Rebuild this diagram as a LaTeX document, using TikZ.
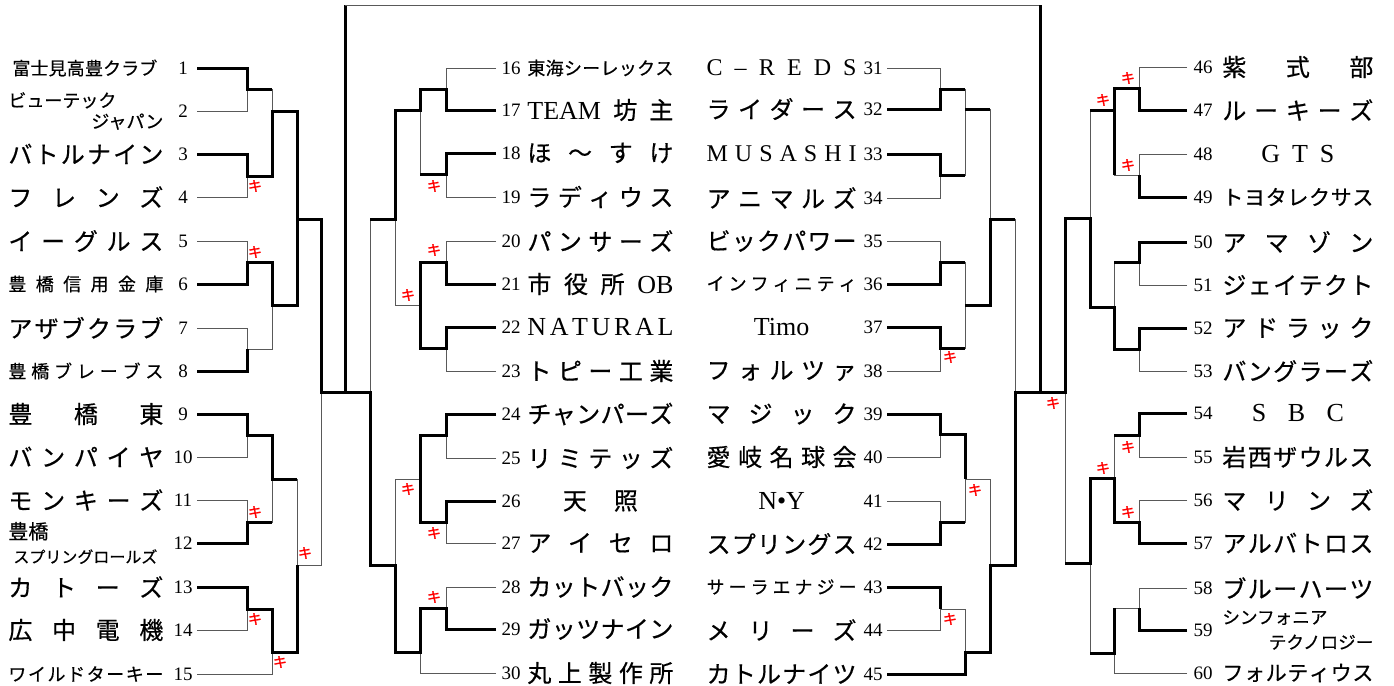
\documentclass[tikz,border=0pt]{standalone}
\usepackage{fontspec}
\setmainfont{Liberation Serif}
\newfontfamily\jp[FakeBold=0.5]{Noto Sans CJK JP}
\newfontfamily\jpheavy[FakeBold=1.5]{Noto Sans CJK JP}
\def\gobblemark#1{}
\def\spreadloop#1#2{#1\ifx\relax#2\expandafter\gobblemark\else\hfil\expandafter\spreadloop\fi{#2}}
\newcommand\spreadname[2]{\makebox[#1][s]{\spreadloop#2\relax}}
\newcommand\teamL[4]{\coordinate (p#1) at (197,#2); \node[seed] (n#1) at (183,#2) {#1}; \node[#3, anchor=west] (t#1) at (8,#2) {#4};}
\newcommand\teamCL[4]{\coordinate (p#1) at (496,#2); \node[seed] (n#1) at (511,#2) {#1}; \node[#3, anchor=west] (t#1) at (527,#2) {#4};}
\newcommand\teamCR[4]{\coordinate (p#1) at (887,#2); \node[seed] (n#1) at (873,#2) {#1}; \node[#3, anchor=east] (t#1) at (857,#2) {#4};}
\newcommand\teamR[4]{\coordinate (p#1) at (1187,#2); \node[seed] (n#1) at (1203,#2) {#1}; \node[#3, anchor=west] (t#1) at (1222,#2) {#4};}
\tikzset{
  win/.style={line width=1.5pt, black},
  lose/.style={line width=0.5pt, black!65},
  seed/.style={font=\fontsize{9.5}{10}\selectfont, inner sep=0pt},
  jpbig/.style={font=\jp\fontsize{12}{14}\selectfont, inner sep=0pt},
  jpmid/.style={font=\jp\fontsize{10.5}{12}\selectfont, inner sep=0pt},
  jpsmall/.style={font=\jp\fontsize{9}{10.5}\selectfont, inner sep=0pt},
  jptiny/.style={font=\jp\fontsize{8}{12}\selectfont, inner sep=0pt},
  jptwo/.style={font=\jp\fontsize{8.8}{12.5}\selectfont, inner sep=0pt},
  latin/.style={font=\fontsize{13}{15}\selectfont, inner sep=0pt},
  latinsm/.style={font=\fontsize{12}{14}\selectfont, inner sep=0pt},
  kiken/.style={font=\jpheavy\fontsize{7}{7}\selectfont, text=red, inner sep=0pt}
}

\begin{document}
\begin{tikzpicture}[x=0.5pt, y=-0.5pt]
	%%%%% START %%%%%
	\useasboundingbox (0,0) rectangle (1394,686);

	%%%%% left block
	\teamL{1}{68}{jpsmall}{\hspace*{2pt}\spreadname{72.5pt}{富士見高豊クラブ}}
	\teamL{2}{111}{jpsmall, align=left}{\makebox[77.5pt][l]{ビューテック}\\\makebox[77.5pt][r]{ジャパン}}
	\teamL{3}{154}{jpbig}{\spreadname{77.5pt}{バトルナイン}}
	\teamL{4}{197}{jpbig}{\spreadname{77.5pt}{フレンズ}}
	\teamL{5}{241}{jpbig}{\spreadname{77.5pt}{イーグルス}}
	\teamL{6}{284}{jpsmall}{\spreadname{77.5pt}{豊橋信用金庫}}
	\teamL{7}{328}{jpbig}{\spreadname{77.5pt}{アザブクラブ}}
	\teamL{8}{371}{jpsmall}{\spreadname{77.5pt}{豊橋ブレーブス}}
	\teamL{9}{414}{jpbig}{\spreadname{77.5pt}{豊橋東}}
	\teamL{10}{457}{jpbig}{\spreadname{77.5pt}{バンパイヤ}}
	\teamL{11}{500}{jpbig}{\spreadname{77.5pt}{モンキーズ}}
	\teamL{12}{543}{jptiny, align=left}{{\fontsize{10}{12}\selectfont 豊橋}\\\hspace*{2.5pt}スプリングロールズ}
	\teamL{13}{587}{jpbig}{\spreadname{77.5pt}{カトーズ}}
	\teamL{14}{630}{jpbig}{\spreadname{77.5pt}{広中電機}}
	\teamL{15}{674}{jpsmall}{\spreadname{77.5pt}{ワイルドターキー}}

	\coordinate (m1x2) at (247,89);
	\coordinate (m3x4) at (247,176);
	\coordinate (m5x6) at (247,262);
	\coordinate (m7x8) at (247,349);
	\coordinate (m9x10) at (247,435);
	\coordinate (m11x12) at (247,522);
	\coordinate (m13x14) at (247,609);
	\coordinate (m1x4) at (272,111);
	\coordinate (m5x8) at (272,305);
	\coordinate (m9x12) at (272,479);
	\coordinate (m13x15) at (272,652);
	\coordinate (m1x8) at (297,219);
	\coordinate (m9x15) at (297,565);
	\coordinate (m1x15) at (321,392);

	\draw[lose] (p1) -| (m1x2) (p2) -| (m1x2) (p3) -| (m3x4) (p4) -| (m3x4);
	\draw[lose] (p5) -| (m5x6) (p6) -| (m5x6) (p7) -| (m7x8) (p8) -| (m7x8);
	\draw[lose] (p9) -| (m9x10) (p10) -| (m9x10) (p11) -| (m11x12) (p12) -| (m11x12);
	\draw[lose] (p13) -| (m13x14) (p14) -| (m13x14) (p15) -| (m13x15);
	\draw[lose] (m1x2) -| (m1x4) (m3x4) -| (m1x4) (m5x6) -| (m5x8) (m7x8) -| (m5x8);
	\draw[lose] (m9x10) -| (m9x12) (m11x12) -| (m9x12) (m13x14) -| (m13x15);
	\draw[lose] (m1x4) -| (m1x8) (m5x8) -| (m1x8) (m9x12) -| (m9x15) (m13x15) -| (m9x15);
	\draw[lose] (m1x8) -| (m1x15) (m9x15) -| (m1x15);

	\draw[win] (p1) -| (m1x2) -- (m1x2 -| m1x4);
	\draw[win] (p3) -| (m3x4) -| (m1x4) -| (m1x8) -| (m1x15) -- (345,392);
	\draw[win] (p6) -| (m5x6) -| (m5x8) -| (m1x8);
	\draw[win] (p8) -| (m7x8);
	\draw[win] (p9) -| (m9x10) -| (m9x12) -- (m9x12 -| m9x15);
	\draw[win] (p12) -| (m11x12) -- (m11x12 -| m9x12);
	\draw[win] (p13) -| (m13x14) -| (m13x15) -| (m9x15);

	%%%%% centre left block
	\teamCL{16}{68}{jpsmall}{\spreadname{73pt}{東海シーレックス}}
	\teamCL{17}{110}{jpbig}{\makebox[73pt][s]{{\rmfamily\fontsize{13}{15}\selectfont TEAM}\hfil 坊\hfil 主}}
	\teamCL{18}{153}{jpbig}{\spreadname{73pt}{ほ〜すけ}}
	\teamCL{19}{197}{jpbig}{\spreadname{73pt}{ラディウス}}
	\teamCL{20}{241}{jpbig}{\spreadname{73pt}{パンサーズ}}
	\teamCL{21}{284}{jpbig}{\makebox[73pt][s]{市\hfil 役\hfil 所\hfil{\rmfamily\fontsize{13}{15}\selectfont OB}}}
	\teamCL{22}{327}{latin}{\spreadname{73pt}{NATURAL}}
	\teamCL{23}{371}{jpbig}{\spreadname{73pt}{トピー工業}}
	\teamCL{24}{414}{jpbig}{\spreadname{73pt}{チャンパーズ}}
	\teamCL{25}{458}{jpbig}{\spreadname{73pt}{リミテッズ}}
	\teamCL{26}{501}{jpbig}{\makebox[73pt]{\makebox[37.5pt][s]{天\hfil 照}}}
	\teamCL{27}{543}{jpbig}{\spreadname{73pt}{アイセロ}}
	\teamCL{28}{587}{jpbig}{\spreadname{73pt}{カットバック}}
	\teamCL{29}{629}{jpbig}{\spreadname{73pt}{ガッツナイン}}
	\teamCL{30}{673}{jpbig}{\spreadname{73pt}{丸上製作所}}

	\coordinate (m16x17) at (446,89);
	\coordinate (m18x19) at (446,174);
	\coordinate (m20x21) at (446,262);
	\coordinate (m22x23) at (446,348);
	\coordinate (m24x25) at (446,435);
	\coordinate (m26x27) at (446,522);
	\coordinate (m28x29) at (446,608);
	\coordinate (m16x19) at (420,110);
	\coordinate (m20x23) at (420,305);
	\coordinate (m24x27) at (420,479);
	\coordinate (m28x30) at (420,652);
	\coordinate (m16x23) at (395,219);
	\coordinate (m24x30) at (395,565);
	\coordinate (m16x30) at (370,392);

	\draw[lose] (p16) -| (m16x17) (p17) -| (m16x17) (p18) -| (m18x19) (p19) -| (m18x19);
	\draw[lose] (p20) -| (m20x21) (p21) -| (m20x21) (p22) -| (m22x23) (p23) -| (m22x23);
	\draw[lose] (p24) -| (m24x25) (p25) -| (m24x25) (p26) -| (m26x27) (p27) -| (m26x27);
	\draw[lose] (p28) -| (m28x29) (p29) -| (m28x29) (p30) -| (m28x30);
	\draw[lose] (m16x17) -| (m16x19) (m18x19) -| (m16x19) (m20x21) -| (m20x23) (m22x23) -| (m20x23);
	\draw[lose] (m24x25) -| (m24x27) (m26x27) -| (m24x27) (m28x29) -| (m28x30);
	\draw[lose] (m16x19) -| (m16x23) (m20x23) -| (m16x23) (m24x27) -| (m24x30) (m28x30) -| (m24x30);
	\draw[lose] (m16x23) -| (m16x30) (m24x30) -| (m16x30);

	\draw[win] (p17) -| (m16x17) -| (m16x19) -| (m16x23) -- (m16x23 -| m16x30);
	\draw[win] (p18) -| (m18x19) -- (m18x19 -| m16x19);
	\draw[win] (p21) -| (m20x21) -| (m20x23);
	\draw[win] (p22) -| (m22x23) -| (m20x23);
	\draw[win] (p24) -| (m24x25) -| (m24x27);
	\draw[win] (p26) -| (m26x27) -| (m24x27);
	\draw[win] (p29) -| (m28x29) -| (m28x30) -| (m24x30) -| (m16x30) -- (345,392);

	%%%%% centre right block
	\teamCR{31}{68}{latinsm}{\spreadname{75pt}{C–REDS}}
	\teamCR{32}{109}{jpbig}{\spreadname{75pt}{ライダース}}
	\teamCR{33}{154}{latinsm}{\spreadname{75pt}{MUSASHI}}
	\teamCR{34}{198}{jpbig}{\spreadname{75pt}{アニマルズ}}
	\teamCR{35}{241}{jpbig}{\spreadname{75pt}{ビックパワー}}
	\teamCR{36}{284}{jpsmall}{\spreadname{75pt}{インフィニティ}}
	\teamCR{37}{327}{latin}{\makebox[75pt]{Timo}}
	\teamCR{38}{371}{jpbig}{\spreadname{75pt}{フォルツァ}}
	\teamCR{39}{414}{jpbig}{\spreadname{75pt}{マジック}}
	\teamCR{40}{457}{jpbig}{\spreadname{75pt}{愛岐名球会}}
	\teamCR{41}{501}{latin}{\makebox[75pt]{N•Y}}
	\teamCR{42}{544}{jpbig}{\spreadname{75pt}{スプリングス}}
	\teamCR{43}{587}{jpsmall}{\spreadname{75pt}{サーラエナジー}}
	\teamCR{44}{630}{jpbig}{\spreadname{75pt}{メリーズ}}
	\teamCR{45}{674}{jpbig}{\spreadname{75pt}{カトルナイツ}}

	\coordinate (m31x32) at (940,89);
	\coordinate (m33x34) at (940,175);
	\coordinate (m35x36) at (940,262);
	\coordinate (m37x38) at (940,348);
	\coordinate (m39x40) at (940,434);
	\coordinate (m41x42) at (940,522);
	\coordinate (m43x44) at (940,609);
	\coordinate (m31x34) at (965,109);
	\coordinate (m35x38) at (965,305);
	\coordinate (m39x42) at (965,479);
	\coordinate (m43x45) at (965,652);
	\coordinate (m31x38) at (990,219);
	\coordinate (m39x45) at (990,565);
	\coordinate (m31x45) at (1015,392);

	\draw[lose] (p31) -| (m31x32) (p32) -| (m31x32) (p33) -| (m33x34) (p34) -| (m33x34);
	\draw[lose] (p35) -| (m35x36) (p36) -| (m35x36) (p37) -| (m37x38) (p38) -| (m37x38);
	\draw[lose] (p39) -| (m39x40) (p40) -| (m39x40) (p41) -| (m41x42) (p42) -| (m41x42);
	\draw[lose] (p43) -| (m43x44) (p44) -| (m43x44) (p45) -| (m43x45);
	\draw[lose] (m31x32) -| (m31x34) (m33x34) -| (m31x34) (m35x36) -| (m35x38) (m37x38) -| (m35x38);
	\draw[lose] (m39x40) -| (m39x42) (m41x42) -| (m39x42) (m43x44) -| (m43x45);
	\draw[lose] (m31x34) -| (m31x38) (m35x38) -| (m31x38) (m39x42) -| (m39x45) (m43x45) -| (m39x45);
	\draw[lose] (m31x38) -| (m31x45) (m39x45) -| (m31x45);

	\draw[win] (p32) -| (m31x32) -- (m31x32 -| m31x34);
	\draw[win] (p33) -| (m33x34) -- (m33x34 -| m31x34);
	\draw[win] (m31x34) -- (m31x34 -| m31x38);
	\draw[win] (p36) -| (m35x36) -- (m35x36 -| m35x38);
	\draw[win] (p37) -| (m37x38) -- (m37x38 -| m35x38);
	\draw[win] (m35x38) -| (m31x38) -- (m31x38 -| m31x45);
	\draw[win] (p39) -| (m39x40) -| (m39x42);
	\draw[win] (p42) -| (m41x42) -- (m41x42 -| m39x42);
	\draw[win] (p43) -| (m43x44);
	\draw[win] (p45) -| (m43x45) -| (m39x45) -| (m31x45) -- (1040,392);

	%%%%% right block
	\teamR{46}{67}{jpbig}{\spreadname{75.5pt}{紫式部}}
	\teamR{47}{110}{jpbig}{\spreadname{75.5pt}{ルーキーズ}}
	\teamR{48}{154}{latin}{\makebox[75.5pt]{\makebox[36.5pt][s]{G\hfil T\hfil S}}}
	\teamR{49}{197}{jpmid}{\spreadname{75.5pt}{トヨタレクサス}}
	\teamR{50}{242}{jpbig}{\spreadname{75.5pt}{アマゾン}}
	\teamR{51}{285}{jpbig}{\spreadname{75.5pt}{ジェイテクト}}
	\teamR{52}{328}{jpbig}{\spreadname{75.5pt}{アドラック}}
	\teamR{53}{371}{jpbig}{\spreadname{75.5pt}{バングラーズ}}
	\teamR{54}{413}{latin}{\makebox[75.5pt]{\makebox[46pt][s]{S\hfil B\hfil C}}}
	\teamR{55}{457}{jpbig}{\spreadname{75.5pt}{岩西ザウルス}}
	\teamR{56}{500}{jpbig}{\spreadname{75.5pt}{マリンズ}}
	\teamR{57}{543}{jpbig}{\spreadname{75.5pt}{アルバトロス}}
	\teamR{58}{588}{jpbig}{\spreadname{75.5pt}{ブルーハーツ}}
	\teamR{59}{630}{jptwo, align=left}{\makebox[75.5pt][l]{シンフォニア}\\\makebox[75.5pt][r]{テクノロジー}}
	\teamR{60}{673}{jpmid}{\spreadname{75.5pt}{フォルティウス}}

	\coordinate (m46x47) at (1139,88);
	\coordinate (m48x49) at (1139,175);
	\coordinate (m50x51) at (1139,262);
	\coordinate (m52x53) at (1139,349);
	\coordinate (m54x55) at (1139,435);
	\coordinate (m56x57) at (1139,522);
	\coordinate (m58x59) at (1139,608);
	\coordinate (m46x49) at (1114,110);
	\coordinate (m50x53) at (1114,307);
	\coordinate (m54x57) at (1114,478);
	\coordinate (m58x60) at (1114,653);
	\coordinate (m46x53) at (1090,218);
	\coordinate (m54x60) at (1090,563);
	\coordinate (m46x60) at (1065,392);

	\draw[lose] (p46) -| (m46x47) (p47) -| (m46x47) (p48) -| (m48x49) (p49) -| (m48x49);
	\draw[lose] (p50) -| (m50x51) (p51) -| (m50x51) (p52) -| (m52x53) (p53) -| (m52x53);
	\draw[lose] (p54) -| (m54x55) (p55) -| (m54x55) (p56) -| (m56x57) (p57) -| (m56x57);
	\draw[lose] (p58) -| (m58x59) (p59) -| (m58x59) (p60) -| (m58x60);
	\draw[lose] (m46x47) -| (m46x49) (m48x49) -| (m46x49) (m50x51) -| (m50x53) (m52x53) -| (m50x53);
	\draw[lose] (m54x55) -| (m54x57) (m56x57) -| (m54x57) (m58x59) -| (m58x60);
	\draw[lose] (m46x49) -| (m46x53) (m50x53) -| (m46x53) (m54x57) -| (m54x60) (m58x60) -| (m54x60);
	\draw[lose] (m46x53) -| (m46x60) (m54x60) -| (m46x60);

	\draw[win] (p47) -| (m46x47) -| (m46x49) -- (m46x49 -| m46x53);
	\draw[win] (p49) -| (m48x49);
	\draw[win] (m48x49 -| m46x49) -- (m46x49);
	\draw[win] (p50) -| (m50x51) -- (m50x51 -| m50x53);
	\draw[win] (p52) -| (m52x53) -| (m50x53) -| (m46x53) -| (m46x60) -- (1040,392);
	\draw[win] (p54) -| (m54x55) -- (m54x55 -| m54x57);
	\draw[win] (p57) -| (m56x57) -| (m54x57) -| (m54x60) -- (m54x60 -| m46x60);
	\draw[win] (p59) -| (m58x59);
	\draw[win] (m58x59 -| m58x60) -- (m58x60) -- (m58x60 -| m54x60);

	%%%%% final frame
	\coordinate (fL) at (345,392);
	\coordinate (fTL) at (345,5);
	\coordinate (fTR) at (1040,5);
	\coordinate (fR) at (1040,392);
	\draw[win] (fL) -- (fTL);
	\draw[lose] (fTL) -- (fTR);
	\draw[win] (fTR) -- (fR);

	%%%%% forfeit marks
	\node[kiken] (k1) at (255,186) {キ};
	\node[kiken] (k2) at (255,252) {キ};
	\node[kiken] (k3) at (255,512) {キ};
	\node[kiken] (k4) at (255,619) {キ};
	\node[kiken] (k5) at (280,662) {キ};
	\node[kiken] (k6) at (305,553) {キ};
	\node[kiken] (k7) at (434,186) {キ};
	\node[kiken] (k8) at (434,250) {キ};
	\node[kiken] (k9) at (408,295) {キ};
	\node[kiken] (k10) at (408,489) {キ};
	\node[kiken] (k11) at (434,533) {キ};
	\node[kiken] (k12) at (434,597) {キ};
	\node[kiken] (k13) at (950,357) {キ};
	\node[kiken] (k14) at (975,490) {キ};
	\node[kiken] (k15) at (950,619) {キ};
	\node[kiken] (k16) at (1053,403) {キ};
	\node[kiken] (k17) at (1128,78) {キ};
	\node[kiken] (k18) at (1103,100) {キ};
	\node[kiken] (k19) at (1128,165) {キ};
	\node[kiken] (k20) at (1128,447) {キ};
	\node[kiken] (k21) at (1103,468) {キ};
	\node[kiken] (k22) at (1128,512) {キ};
	%%%%% END %%%%%
\end{tikzpicture}
\end{document}
